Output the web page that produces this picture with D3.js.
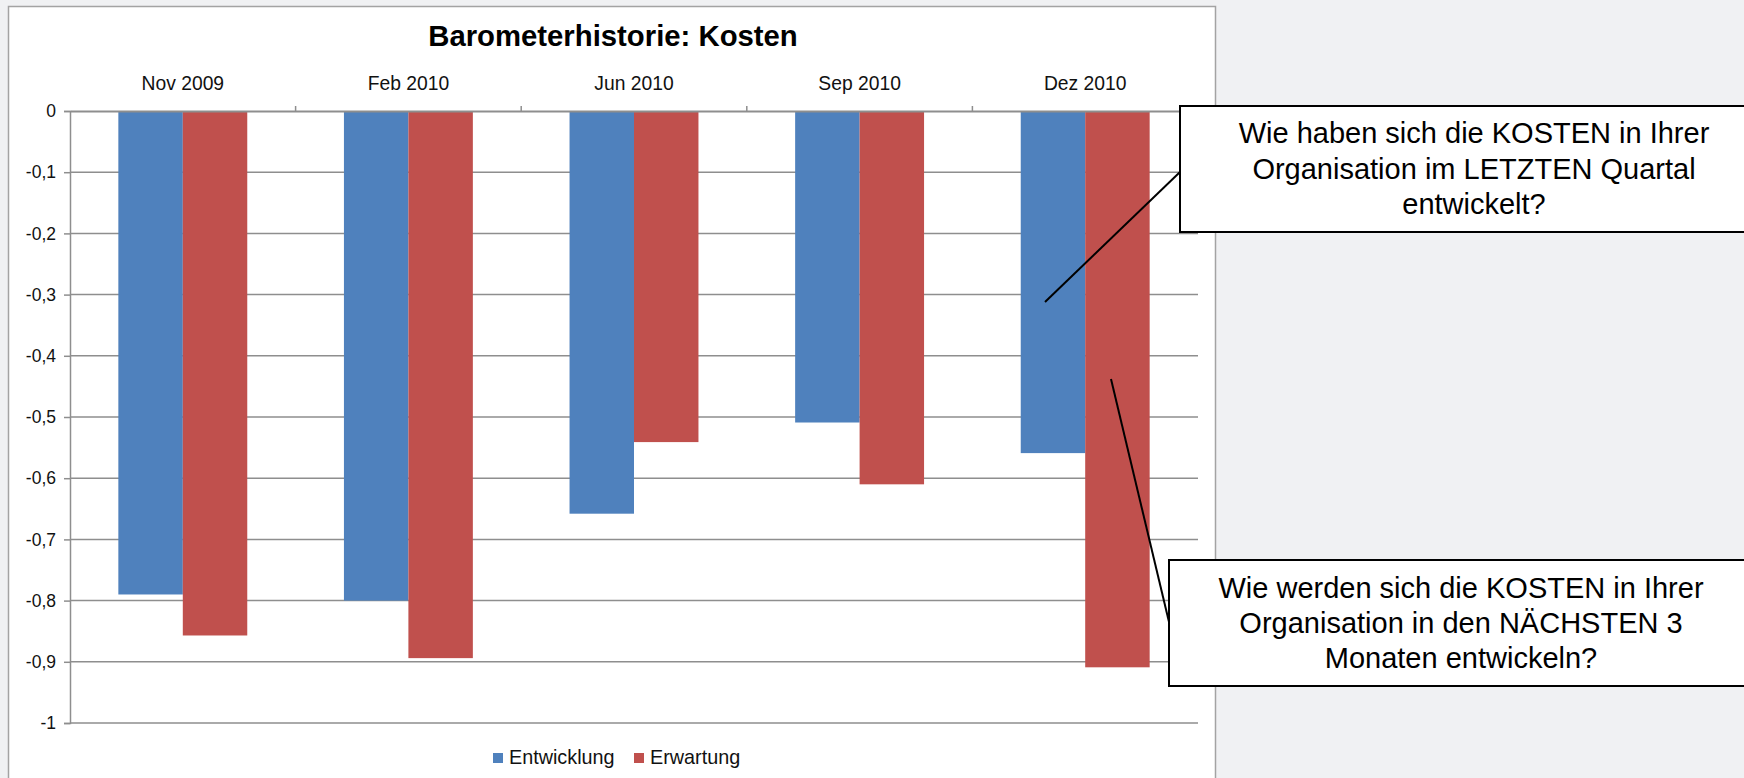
<!DOCTYPE html>
<html>
<head>
<meta charset="utf-8">
<script src="https://cdn.jsdelivr.net/npm/d3@7"></script>
<style>
  html, body { margin: 0; padding: 0; background: #f0f1f3; }
  svg { display: block; font-family: "Liberation Sans", Arial, Helvetica, sans-serif; }
</style>
</head>
<body>
<div id="chart"></div>
<script>
// data
const categories = ['Nov 2009', 'Feb 2010', 'Jun 2010', 'Sep 2010', 'Dez 2010']
const series = ['Entwicklung', 'Erwartung']
const entwicklung = [-0.79, -0.80, -0.658, -0.509, -0.559]
const erwartung = [-0.857, -0.894, -0.541, -0.61, -0.909]
const yTicks = [0, -0.1, -0.2, -0.3, -0.4, -0.5, -0.6, -0.7, -0.8, -0.9, -1]
const title = 'Barometerhistorie: Kosten'
const notes = [
	{ lines: ['Wie haben sich die KOSTEN in Ihrer', 'Organisation im LETZTEN Quartal', 'entwickelt?'] },
	{ lines: ['Wie werden sich die KOSTEN in Ihrer', 'Organisation in den NÄCHSTEN 3', 'Monaten entwickeln?'] }
]

const colors = { Entwicklung: '#4f81bd', Erwartung: '#c0504d' }
const values = { Entwicklung: entwicklung, Erwartung: erwartung }

const W = 1744, H = 778
const plot = { left: 70, right: 1198, top: 111, bottom: 723 }

const svg = d3.select('#chart').append('svg')
	.attr('width', W)
	.attr('height', H)

// slide background
svg.append('rect')
	.attr('width', W).attr('height', H)
	.attr('fill', '#f0f1f3')

// chart area frame
svg.append('rect')
	.attr('x', 8.5).attr('y', 6.5)
	.attr('width', 1207).attr('height', 800)
	.attr('fill', '#fff')
	.attr('stroke', '#a3a3a3')
	.attr('stroke-width', 1.5)

// scales
const x0 = d3.scaleBand().domain(categories).range([plot.left, plot.right]).padding(0)
const x1 = d3.scaleBand().domain(series).range([0, x0.bandwidth()]).paddingInner(0).paddingOuter(0.75)
const y = d3.scaleLinear().domain([-1, 0]).range([plot.bottom, plot.top])

const loc = d3.formatLocale({ decimal: ',', thousands: '.', grouping: [3], currency: ['', ' €'], minus: '-' })
const fmt = loc.format('.1~f')

// gridlines
svg.append('g')
	.selectAll('line')
	.data(yTicks.filter(d => d !== 0))
	.join('line')
		.attr('x1', plot.left).attr('x2', plot.right)
		.attr('y1', d => y(d)).attr('y2', d => y(d))
		.attr('stroke', '#8e8e8e')
		.attr('stroke-width', 1.5)

// bars
const groups = svg.append('g')
	.selectAll('g')
	.data(categories)
	.join('g')
		.attr('transform', d => `translate(${x0(d)},0)`)

groups.selectAll('rect')
	.data((c, i) => series.map(s => ({ s, v: values[s][i] })))
	.join('rect')
		.attr('x', d => x1(d.s))
		.attr('width', x1.bandwidth())
		.attr('y', y(0))
		.attr('height', d => y(d.v) - y(0))
		.attr('fill', d => colors[d.s])

// y axis
const yAxis = svg.append('g')
	.attr('transform', `translate(${plot.left},0)`)
	.call(d3.axisLeft(y).tickValues(yTicks).tickFormat(fmt).tickSize(6).tickPadding(8))
yAxis.select('.domain').attr('stroke', '#8e8e8e').attr('stroke-width', 1.5)
yAxis.selectAll('.tick line').attr('stroke', '#8e8e8e').attr('stroke-width', 1.5)
yAxis.selectAll('text').attr('font-size', 17.5).attr('fill', '#111')
	.attr('font-family', '"Liberation Sans", Arial, sans-serif')

// category axis along zero, labels above
const xAxis = svg.append('g')
	.attr('transform', `translate(0,${y(0)})`)
	.call(d3.axisTop(x0).tickSize(0).tickPadding(21))
xAxis.select('.domain').attr('stroke', '#8e8e8e').attr('stroke-width', 2)
xAxis.selectAll('text').attr('font-size', 19.3).attr('fill', '#111')
	.attr('font-family', '"Liberation Sans", Arial, sans-serif')

// category boundary ticks
svg.append('g')
	.selectAll('line')
	.data(categories.slice(1).concat(['end']))
	.join('line')
		.attr('x1', d => d === 'end' ? plot.right : x0(d))
		.attr('x2', d => d === 'end' ? plot.right : x0(d))
		.attr('y1', y(0)).attr('y2', y(0) - 5)
		.attr('stroke', '#8e8e8e')
		.attr('stroke-width', 1.5)

// title
svg.append('text')
	.attr('x', 613).attr('y', 46)
	.attr('text-anchor', 'middle')
	.attr('font-size', 29.3)
	.attr('font-weight', 'bold')
	.attr('fill', '#000')
	.text(title)

// legend
const legend = svg.append('g').attr('transform', 'translate(493,753)')
series.forEach((s, i) => {
	const g = legend.append('g').attr('transform', `translate(${i === 0 ? 0 : 141},0)`)
	g.append('rect').attr('width', 10).attr('height', 10).attr('fill', colors[s])
	g.append('text').attr('x', 16).attr('y', 11)
		.attr('font-size', 19.8).attr('fill', '#111').text(s)
})

// callouts: leader lines, then boxes
const leaders = [
	{ from: [1045, 302], to: [1180, 172] },
	{ from: [1111, 379], to: [1169, 622] }
]
svg.append('g')
	.selectAll('line')
	.data(leaders)
	.join('line')
		.attr('x1', d => d.from[0]).attr('y1', d => d.from[1])
		.attr('x2', d => d.to[0]).attr('y2', d => d.to[1])
		.attr('stroke', '#000')
		.attr('stroke-width', 2)

const boxes = [
	{ x: 1180, y: 106, w: 600, h: 126, cx: 1474, base: 143, step: 35.5 },
	{ x: 1169, y: 560, w: 600, h: 126, cx: 1461, base: 598, step: 35 }
]
boxes.forEach((b, i) => {
	svg.append('rect')
		.attr('x', b.x).attr('y', b.y)
		.attr('width', b.w).attr('height', b.h)
		.attr('fill', '#fff')
		.attr('stroke', '#000')
		.attr('stroke-width', 2)
	svg.append('g')
		.selectAll('text')
		.data(notes[i].lines)
		.join('text')
			.attr('x', b.cx)
			.attr('y', (d, j) => b.base + j * b.step)
			.attr('text-anchor', 'middle')
			.attr('font-size', 29)
			.attr('fill', '#000')
			.text(d => d)
})
</script>
</body>
</html>
